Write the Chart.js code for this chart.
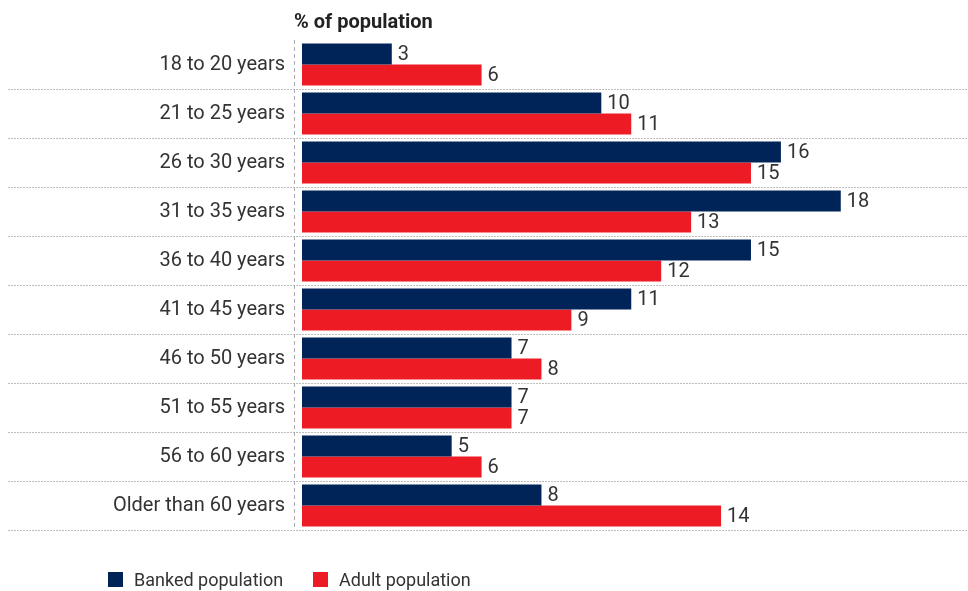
<!DOCTYPE html>
<html>
<head>
<meta charset="utf-8">
<script src="https://cdn.jsdelivr.net/npm/chart.js@4.4.1/dist/chart.umd.min.js"></script>
<style>
  body { margin: 0; background: #fff; }
  #wrap { position: relative; width: 968px; height: 591px; }
  #legend { position: absolute; left: 108px; top: 569px; font: 18px "Liberation Sans Narrow", Roboto, sans-serif; color: #333; display: flex; }
  #legend span.item { display: flex; align-items: center; margin-right: 30px; }
  #legend i { display: inline-block; width: 15px; height: 15px; margin-right: 11px; }
</style>
</head>
<body>
<div id="wrap">
  <canvas id="myChart" width="968" height="591"></canvas>
  <div id="legend"></div>
</div>
<script>
// categories (y axis)
const ageGroups = ['18 to 20 years', '21 to 25 years', '26 to 30 years', '31 to 35 years', '36 to 40 years',
  '41 to 45 years', '46 to 50 years', '51 to 55 years', '56 to 60 years', 'Older than 60 years'];
// series values, % of population
const bankedPop = [3, 10, 16, 18, 15, 11, 7, 7, 5, 8];
const adultPop = [6, 11, 15, 13, 12, 9, 8, 7, 6, 14];
const seriesNames = ['Banked population', 'Adult population'];
const axisTitle = '% of population';

const navy = '#002458';
const red = '#ED1C24';
const fontFam = '"Liberation Sans Narrow", Roboto, sans-serif';

// separators, dashed axis, title and value labels
const decor = {
  id: 'decor',
  afterDatasetsDraw(chart) {
    const {ctx, chartArea} = chart;
    const step = (chartArea.bottom - chartArea.top) / ageGroups.length;
    ctx.save();
    ctx.strokeStyle = '#bdbdbd';
    ctx.lineWidth = 1;
    ctx.setLineDash([2, 1]);
    for (let i = 1; i <= ageGroups.length; i++) {
      const y = Math.round(chartArea.top + i * step) + 0.5;
      ctx.beginPath();
      ctx.moveTo(8, y);
      ctx.lineTo(968, y);
      ctx.stroke();
    }
    ctx.strokeStyle = '#aaa';
    ctx.setLineDash([4, 3]);
    ctx.beginPath();
    ctx.moveTo(294.5, chartArea.top);
    ctx.lineTo(294.5, chartArea.bottom);
    ctx.stroke();
    ctx.setLineDash([]);

    // title
    ctx.fillStyle = '#222';
    ctx.font = 'bold 20px ' + fontFam;
    ctx.textAlign = 'left';
    ctx.textBaseline = 'alphabetic';
    ctx.fillText(axisTitle, 294, 28);

    // value labels
    ctx.font = '20px ' + fontFam;
    ctx.fillStyle = '#333';
    ctx.textBaseline = 'middle';
    chart.data.datasets.forEach((ds, di) => {
      chart.getDatasetMeta(di).data.forEach((bar, i) => {
        ctx.fillText(ds.data[i], bar.x + 6, bar.y + 1);
      });
    });
    ctx.restore();
  }
};

const ctx = document.querySelector('#myChart').getContext('2d');
new Chart(ctx, {
  type: 'bar',
  data: {
    labels: ageGroups,
    datasets: [
      { label: seriesNames[0], data: bankedPop, backgroundColor: navy },
      { label: seriesNames[1], data: adultPop, backgroundColor: red }
    ]
  },
  options: {
    indexAxis: 'y',
    responsive: false,
    animation: false,
    layout: { padding: { top: 40, bottom: 61, left: 0, right: 6 } },
    datasets: { bar: { barPercentage: 1, categoryPercentage: 0.86 } },
    scales: {
      x: { display: false, min: 0, max: 22.05 },
      y: {
        grid: { display: false, drawTicks: false },
        border: { display: false },
        ticks: { color: '#333', padding: 17, font: { family: fontFam, size: 20 } },
        afterFit(scale) { scale.width = 302; }
      }
    },
    plugins: {
      legend: { display: false },
      tooltip: { enabled: false }
    }
  },
  plugins: [decor]
});

// legend under the chart
const legend = document.getElementById('legend');
[navy, red].forEach((c, i) => {
  const s = document.createElement('span');
  s.className = 'item';
  s.innerHTML = '<i style="background:' + c + '"></i>' + seriesNames[i];
  legend.appendChild(s);
});
</script>
</body>
</html>
